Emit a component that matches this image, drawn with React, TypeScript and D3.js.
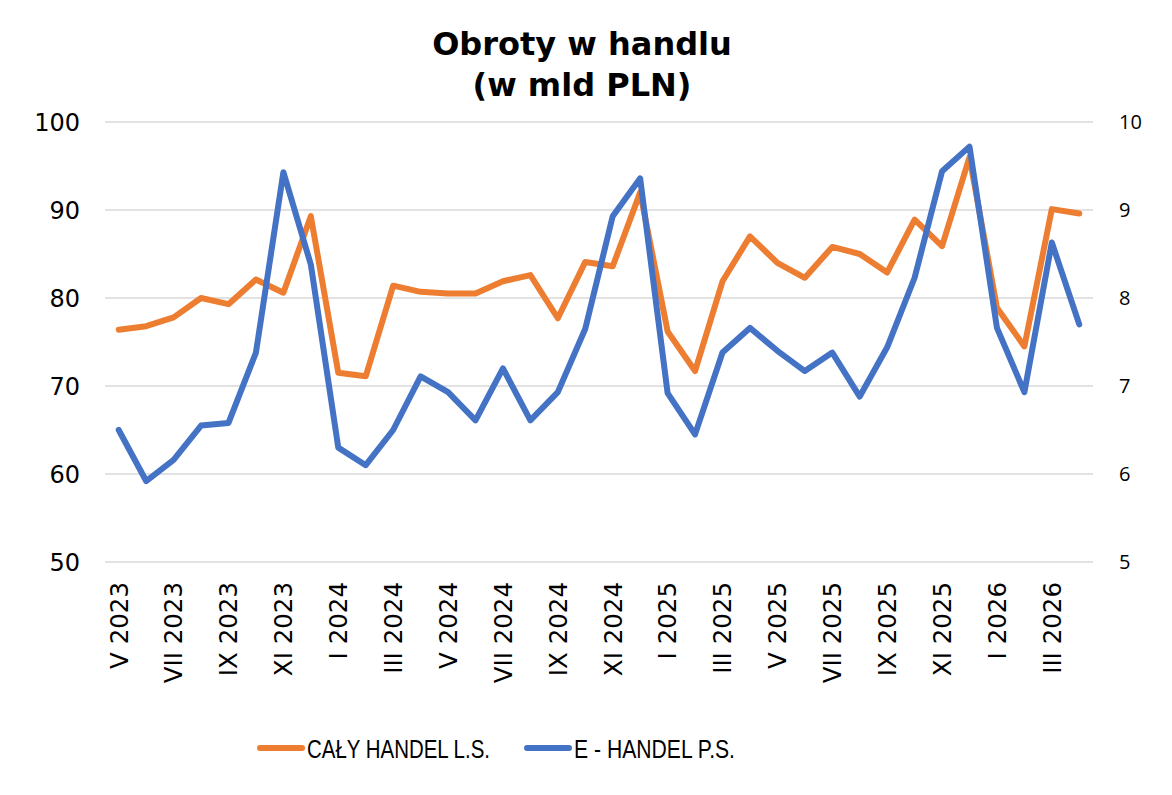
import React, { useEffect, useRef } from 'react';
import * as d3 from 'd3';

// miesiące V 2023 – IV 2026
const months = [
  'V 2023', 'VI 2023', 'VII 2023', 'VIII 2023', 'IX 2023', 'X 2023', 'XI 2023', 'XII 2023',
  'I 2024', 'II 2024', 'III 2024', 'IV 2024', 'V 2024', 'VI 2024', 'VII 2024', 'VIII 2024',
  'IX 2024', 'X 2024', 'XI 2024', 'XII 2024', 'I 2025', 'II 2025', 'III 2025', 'IV 2025',
  'V 2025', 'VI 2025', 'VII 2025', 'VIII 2025', 'IX 2025', 'X 2025', 'XI 2025', 'XII 2025',
  'I 2026', 'II 2026', 'III 2026', 'IV 2026',
];

// cały handel, lewa oś (mld PLN)
const calyHandel = [
  76.4, 76.8, 77.8, 80.0, 79.3, 82.1, 80.6, 89.3,
  71.5, 71.1, 81.4, 80.7, 80.5, 80.5, 81.9, 82.6,
  77.7, 84.1, 83.6, 92.0, 76.2, 71.7, 81.9, 87.0,
  84.0, 82.3, 85.8, 85.0, 82.9, 88.9, 85.9, 96.0,
  78.9, 74.5, 90.1, 89.6,
];

// e-handel, prawa oś (mld PLN)
const eHandel = [
  6.50, 5.92, 6.16, 6.55, 6.58, 7.38, 9.43, 8.38,
  6.30, 6.10, 6.50, 7.11, 6.93, 6.61, 7.20, 6.61,
  6.93, 7.65, 8.93, 9.36, 6.92, 6.45, 7.38, 7.66,
  7.40, 7.17, 7.38, 6.88, 7.44, 8.23, 9.44, 9.72,
  7.66, 6.93, 8.63, 7.70,
];

const leftTicks = [50, 60, 70, 80, 90, 100];
const rightTicks = [5, 6, 7, 8, 9, 10];
const seriesNames = ['CAŁY HANDEL L.S.', 'E - HANDEL P.S.'];
const titleLines = ['Obroty w handlu', '(w mld PLN)'];

const ORANGE = '#ED7D31';
const BLUE = '#4472C4';
const SANS = "'DejaVu Sans', Verdana, sans-serif";

export default function App() {
  const svgRef = useRef<SVGSVGElement>(null);

  useEffect(() => {
    if (!svgRef.current) return;
    const svg = d3.select(svgRef.current);
    svg.selectAll('*').remove();

    const width = 1172;
    const height = 795;
    const plot = { left: 105, right: 1093, top: 122, bottom: 562 };

    svg.attr('width', width).attr('height', height);
    svg.append('rect').attr('width', width).attr('height', height).attr('fill', '#fff');

    const x = d3.scaleBand<string>().domain(months).range([plot.left, plot.right]).padding(0);
    const cx = (m: string) => (x(m) as number) + x.bandwidth() / 2;
    const yL = d3.scaleLinear().domain([50, 100]).range([plot.bottom, plot.top]);
    const yR = d3.scaleLinear().domain([5, 10]).range([plot.bottom, plot.top]);

    // siatka
    svg.append('g')
      .selectAll('line')
      .data(leftTicks)
      .enter().append('line')
      .attr('x1', plot.left)
      .attr('x2', plot.right)
      .attr('y1', (d) => yL(d))
      .attr('y2', (d) => yL(d))
      .attr('stroke', '#d9d9d9')
      .attr('stroke-width', 1.5);

    // lewa oś
    svg.append('g')
      .selectAll('text')
      .data(leftTicks)
      .enter().append('text')
      .attr('x', 80)
      .attr('y', (d) => yL(d))
      .attr('dy', '0.36em')
      .attr('text-anchor', 'end')
      .style('font-family', SANS)
      .style('font-size', '24px')
      .attr('fill', '#000')
      .text((d) => d);

    // prawa oś
    svg.append('g')
      .selectAll('text')
      .data(rightTicks)
      .enter().append('text')
      .attr('x', 1119)
      .attr('y', (d) => yR(d))
      .attr('dy', '0.36em')
      .attr('text-anchor', 'start')
      .style('font-family', "'Open Sans', 'Noto Sans', sans-serif")
      .style('font-size', '20px')
      .attr('fill', '#000')
      .text((d) => d);

    // etykiety osi X co dwa miesiące
    svg.append('g')
      .selectAll('text')
      .data(months.filter((_, i) => i % 2 === 0))
      .enter().append('text')
      .attr('transform', (d) => `translate(${cx(d)},${582}) rotate(-90)`)
      .attr('dy', '0.36em')
      .attr('text-anchor', 'end')
      .style('font-family', SANS)
      .style('font-size', '24.5px')
      .attr('fill', '#000')
      .text((d) => d);

    // linie
    const lineL = d3.line<number>()
      .x((_, i) => cx(months[i]))
      .y((d) => yL(d));
    const lineR = d3.line<number>()
      .x((_, i) => cx(months[i]))
      .y((d) => yR(d));

    svg.append('path')
      .datum(calyHandel)
      .attr('d', lineL)
      .attr('fill', 'none')
      .attr('stroke', ORANGE)
      .attr('stroke-width', 6)
      .attr('stroke-linejoin', 'round')
      .attr('stroke-linecap', 'round');

    svg.append('path')
      .datum(eHandel)
      .attr('d', lineR)
      .attr('fill', 'none')
      .attr('stroke', BLUE)
      .attr('stroke-width', 6)
      .attr('stroke-linejoin', 'round')
      .attr('stroke-linecap', 'round');

    // tytuł
    svg.append('text')
      .attr('x', 582)
      .attr('text-anchor', 'middle')
      .style('font-family', SANS)
      .style('font-size', '32px')
      .style('font-weight', 'bold')
      .attr('fill', '#000')
      .selectAll('tspan')
      .data(titleLines)
      .enter().append('tspan')
      .attr('x', 582)
      .attr('y', (_, i) => 55 + i * 41)
      .text((d) => d);

    // legenda
    const legend = [
      { name: seriesNames[0], color: ORANGE, x0: 260, width: 183 },
      { name: seriesNames[1], color: BLUE, x0: 527, width: 161 },
    ];
    const lg = svg.append('g');
    legend.forEach((l) => {
      lg.append('line')
        .attr('x1', l.x0)
        .attr('x2', l.x0 + 42)
        .attr('y1', 748)
        .attr('y2', 748)
        .attr('stroke', l.color)
        .attr('stroke-width', 6)
        .attr('stroke-linecap', 'round');
      lg.append('text')
        .attr('x', l.x0 + 47)
        .attr('y', 758)
        .attr('textLength', l.width)
        .attr('lengthAdjust', 'spacingAndGlyphs')
        .style('font-family', "'Liberation Sans Narrow', 'Liberation Sans', Arial, sans-serif")
        .style('font-size', '26px')
        .attr('fill', '#000')
        .text(l.name);
    });
  }, []);

  return (
    <div style={{ position: 'absolute', left: 0, top: 0 }}>
      <svg ref={svgRef} style={{ display: 'block' }}></svg>
    </div>
  );
}
